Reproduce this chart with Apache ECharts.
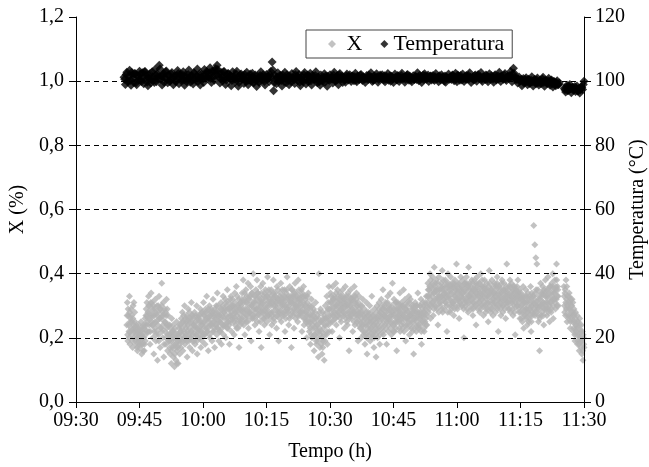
<!DOCTYPE html>
<html>
<head>
<meta charset="utf-8">
<script src="https://cdn.jsdelivr.net/npm/echarts@6/dist/echarts.min.js"></script>
<style>html,body{margin:0;padding:0;background:#fff}#c{width:649px;height:467px}</style>
</head>
<body>
<div id="c"></div>
<script>
// ---- axis ticks ----
const timeTicks = ['09:30','09:45','10:00','10:15','10:30','10:45','11:00','11:15','11:30'];
const xTicks = [0.0,0.2,0.4,0.6,0.8,1.0,1.2];
const tempTicks = [0,20,40,60,80,100,120];

// ---- X (%) readings, every 7.5 s; a second interleaved set (…b) offset by 3.75 s ----
const xStep = 7.5;
const x_0942_start = '09:42:00';
const x_0942 = [
0.24,0.31,0.19,0.27,0.22,0.33,0.18,0.26, 0.29,0.21,0.25,0.17,0.30,0.23,0.20,0.28,
0.22,0.18,0.24,0.20,0.16,0.23,0.19,0.21, 0.17,0.22,0.20,0.25,0.15,0.21,0.18,0.23,
0.20,0.16,0.24,0.19,0.27,0.22,0.31,0.25, 0.28,0.33,0.22,0.30,0.18,0.26,0.34,0.24,
0.31,0.20,0.27,0.15,0.29,0.23,0.32,0.19, 0.25,0.30,0.13,0.28,0.21,0.33,0.26,0.17,
0.29,0.23,0.37,0.27,0.20,0.31,0.14,0.25, 0.22,0.28,0.18,0.32,0.24,0.16,0.27,0.21,
0.19,0.24,0.15,0.21,0.12,0.26,0.17,0.22, 0.14,0.20,0.11,0.23,0.18,0.13,0.25,0.16,
0.21,0.12,0.19,0.24,0.15,0.22,0.17,0.26, 0.23,0.28,0.16,0.25,0.20,0.30,0.18,0.26,
0.21,0.27,0.14,0.24,0.29,0.19,0.23,0.17, 0.26,0.20,0.31,0.22,0.16,0.27,0.24,0.19,
0.28,0.18,0.25,0.21,0.30,0.15,0.23,0.27, 0.20,0.26,0.22,0.29,0.17,0.24,0.19,0.28
];
const xb_0942_start = '09:42:03.75';
const xb_0942 = [
0.27,0.21,0.29,0.24,0.20,0.28,0.25,0.22, 0.23,0.27,0.19,0.26,0.24,0.31,0.22,0.25,
0.19,0.23,0.21,0.17,0.22,0.20,0.24,0.18, 0.21,0.19,0.23,0.18,0.22,0.20,0.16,0.24,
0.23,0.18,0.26,0.21,0.29,0.24,0.27,0.22, 0.26,0.30,0.24,0.28,0.22,0.31,0.27,0.25,
0.29,0.24,0.30,0.22,0.27,0.25,0.28,0.21, 0.22,0.27,0.24,0.30,0.19,0.26,0.29,0.23,
0.26,0.30,0.22,0.28,0.24,0.27,0.18,0.29, 0.25,0.20,0.27,0.23,0.29,0.21,0.24,0.19,
0.21,0.17,0.23,0.19,0.16,0.22,0.20,0.24, 0.18,0.22,0.15,0.20,0.17,0.21,0.12,0.19,
0.17,0.21,0.23,0.18,0.20,0.24,0.19,0.22, 0.21,0.25,0.19,0.27,0.22,0.24,0.20,0.23,
0.25,0.19,0.22,0.26,0.21,0.25,0.28,0.20, 0.22,0.25,0.27,0.19,0.24,0.21,0.26,0.23,
0.24,0.21,0.27,0.23,0.19,0.26,0.22,0.25, 0.23,0.27,0.20,0.25,0.22,0.28,0.24,0.21
];
const x_1000_start = '10:00:00';
const x_1000 = [
0.25,0.31,0.21,0.27,0.18,0.29,0.23,0.33, 0.22,0.28,0.16,0.26,0.30,0.20,0.24,0.27,
0.29,0.19,0.25,0.32,0.22,0.27,0.17,0.24, 0.26,0.30,0.21,0.34,0.23,0.28,0.19,0.25,
0.27,0.22,0.31,0.18,0.29,0.24,0.33,0.21, 0.28,0.24,0.32,0.20,0.30,0.26,0.35,0.23,
0.25,0.31,0.18,0.29,0.27,0.33,0.22,0.30, 0.32,0.26,0.29,0.21,0.34,0.24,0.28,0.36,
0.27,0.33,0.23,0.30,0.17,0.29,0.25,0.31, 0.30,0.26,0.34,0.28,0.38,0.24,0.32,0.21,
0.29,0.35,0.25,0.31,0.27,0.37,0.23,0.33, 0.32,0.28,0.36,0.19,0.30,0.34,0.26,0.40,
0.27,0.33,0.24,0.31,0.35,0.29,0.38,0.25, 0.34,0.30,0.22,0.32,0.28,0.36,0.17,0.31,
0.29,0.37,0.26,0.33,0.24,0.30,0.35,0.28
];
const xb_1000_start = '10:00:03.75';
const xb_1000 = [
0.23,0.27,0.25,0.21,0.28,0.24,0.26,0.22, 0.26,0.23,0.29,0.25,0.21,0.27,0.24,0.28,
0.24,0.27,0.22,0.28,0.25,0.23,0.29,0.26, 0.28,0.24,0.27,0.23,0.30,0.25,0.27,0.22,
0.25,0.29,0.26,0.23,0.27,0.30,0.24,0.28, 0.26,0.29,0.24,0.31,0.27,0.23,0.29,0.25,
0.29,0.24,0.27,0.32,0.25,0.28,0.30,0.26, 0.27,0.30,0.25,0.28,0.31,0.26,0.29,0.23,
0.30,0.25,0.28,0.32,0.26,0.29,0.24,0.31, 0.27,0.32,0.29,0.25,0.31,0.28,0.34,0.26,
0.31,0.27,0.33,0.29,0.25,0.32,0.28,0.30, 0.28,0.33,0.26,0.30,0.34,0.27,0.31,0.29,
0.31,0.26,0.29,0.33,0.28,0.32,0.27,0.34, 0.29,0.33,0.27,0.31,0.25,0.30,0.34,0.28,
0.32,0.28,0.31,0.26,0.34,0.29,0.27,0.33
];
const x_1015_start = '10:15:00';
const x_1015 = [
0.32,0.25,0.39,0.30,0.27,0.34,0.21,0.31, 0.30,0.35,0.24,0.32,0.28,0.38,0.26,0.33,
0.34,0.29,0.31,0.23,0.36,0.27,0.32,0.19, 0.28,0.33,0.30,0.37,0.25,0.31,0.35,0.29,
0.32,0.27,0.35,0.22,0.30,0.34,0.28,0.39, 0.29,0.33,0.24,0.31,0.36,0.27,0.32,0.17,
0.31,0.35,0.28,0.33,0.23,0.30,0.37,0.26, 0.34,0.29,0.32,0.25,0.38,0.30,0.27,0.33,
0.28,0.31,0.35,0.22,0.33,0.29,0.36,0.24, 0.30,0.26,0.33,0.28,0.20,0.31,0.25,0.34,
0.27,0.22,0.30,0.18,0.25,0.32,0.20,0.28, 0.23,0.29,0.16,0.26,0.21,0.31,0.19,0.24,
0.20,0.27,0.14,0.40,0.23,0.17,0.29,0.25, 0.22,0.15,0.28,0.19,0.26,0.13,0.24,0.30,
0.26,0.21,0.33,0.18,0.29,0.24,0.36,0.22
];
const xb_1015_start = '10:15:03.75';
const xb_1015 = [
0.29,0.33,0.27,0.31,0.35,0.28,0.32,0.26, 0.33,0.28,0.31,0.27,0.34,0.30,0.25,0.32,
0.30,0.33,0.27,0.31,0.29,0.35,0.28,0.32, 0.26,0.31,0.34,0.28,0.32,0.27,0.30,0.33,
0.31,0.28,0.33,0.30,0.26,0.32,0.35,0.29, 0.28,0.32,0.30,0.26,0.33,0.29,0.31,0.35,
0.33,0.27,0.31,0.29,0.34,0.28,0.32,0.30, 0.30,0.33,0.27,0.31,0.29,0.35,0.32,0.28,
0.32,0.27,0.30,0.34,0.28,0.31,0.26,0.33, 0.28,0.32,0.25,0.30,0.27,0.33,0.29,0.24,
0.25,0.29,0.23,0.27,0.21,0.26,0.30,0.24, 0.27,0.21,0.25,0.28,0.23,0.26,0.18,0.22,
0.24,0.19,0.26,0.22,0.28,0.21,0.25,0.18, 0.20,0.25,0.17,0.23,0.27,0.21,0.19,0.26,
0.24,0.28,0.22,0.26,0.31,0.25,0.29,0.27
];
const x_1030_start = '10:30:00';
const x_1030 = [
0.29,0.34,0.25,0.31,0.22,0.36,0.27,0.32, 0.33,0.26,0.30,0.37,0.24,0.29,0.35,0.28,
0.27,0.31,0.20,0.34,0.29,0.25,0.32,0.30, 0.35,0.28,0.32,0.23,0.30,0.36,0.26,0.33,
0.30,0.24,0.34,0.28,0.16,0.31,0.27,0.35, 0.26,0.32,0.29,0.22,0.33,0.28,0.36,0.24,
0.31,0.27,0.34,0.25,0.30,0.19,0.28,0.33, 0.27,0.23,0.30,0.20,0.28,0.25,0.32,0.22,
0.24,0.29,0.18,0.26,0.21,0.31,0.15,0.27, 0.28,0.22,0.25,0.30,0.19,0.26,0.23,0.33,
0.21,0.27,0.24,0.17,0.29,0.22,0.26,0.14, 0.25,0.30,0.20,0.27,0.23,0.31,0.18,0.28,
0.26,0.32,0.23,0.29,0.35,0.21,0.27,0.30, 0.24,0.31,0.28,0.18,0.26,0.33,0.22,0.29,
0.30,0.25,0.34,0.27,0.21,0.28,0.37,0.24
];
const xb_1030_start = '10:30:03.75';
const xb_1030 = [
0.31,0.27,0.33,0.29,0.25,0.32,0.30,0.28, 0.28,0.32,0.26,0.34,0.30,0.27,0.31,0.33,
0.32,0.28,0.30,0.26,0.33,0.29,0.27,0.31, 0.29,0.33,0.27,0.31,0.28,0.32,0.30,0.25,
0.27,0.31,0.29,0.33,0.26,0.30,0.32,0.28, 0.30,0.27,0.32,0.28,0.31,0.25,0.29,0.33,
0.28,0.32,0.26,0.30,0.27,0.31,0.24,0.29, 0.25,0.28,0.23,0.26,0.30,0.24,0.27,0.21,
0.27,0.22,0.26,0.24,0.28,0.20,0.25,0.23, 0.24,0.27,0.21,0.26,0.23,0.28,0.25,0.20,
0.25,0.22,0.27,0.20,0.24,0.26,0.21,0.23, 0.28,0.24,0.26,0.22,0.29,0.25,0.21,0.27,
0.28,0.24,0.30,0.26,0.22,0.29,0.25,0.27, 0.27,0.23,0.29,0.25,0.31,0.26,0.24,0.28,
0.26,0.29,0.23,0.27,0.30,0.25,0.28,0.22
];
const x_1045_start = '10:45:00';
const x_1045 = [
0.27,0.32,0.22,0.29,0.25,0.31,0.16,0.28, 0.31,0.26,0.29,0.23,0.34,0.27,0.30,0.24,
0.25,0.30,0.27,0.35,0.22,0.28,0.32,0.19, 0.29,0.24,0.31,0.26,0.28,0.33,0.21,0.27,
0.32,0.27,0.23,0.30,0.25,0.29,0.15,0.28, 0.26,0.31,0.28,0.22,0.30,0.27,0.34,0.24,
0.28,0.23,0.30,0.26,0.32,0.18,0.27,0.29, 0.25,0.30,0.22,0.28,0.31,0.26,0.33,0.24,
0.33,0.37,0.28,0.35,0.30,0.40,0.26,0.34, 0.36,0.31,0.39,0.27,0.34,0.42,0.30,0.37,
0.32,0.38,0.29,0.35,0.24,0.33,0.39,0.31, 0.35,0.30,0.37,0.33,0.41,0.28,0.36,0.32,
0.29,0.34,0.38,0.31,0.36,0.22,0.33,0.40, 0.37,0.32,0.35,0.28,0.39,0.34,0.30,0.36,
0.31,0.36,0.27,0.33,0.38,0.30,0.35,0.43
];
const xb_1045_start = '10:45:03.75';
const xb_1045 = [
0.29,0.24,0.27,0.31,0.23,0.26,0.29,0.25, 0.27,0.30,0.25,0.28,0.22,0.29,0.26,0.31,
0.28,0.23,0.26,0.30,0.27,0.24,0.29,0.26, 0.26,0.30,0.23,0.28,0.25,0.27,0.31,0.24,
0.25,0.29,0.27,0.22,0.28,0.26,0.30,0.23, 0.29,0.24,0.26,0.30,0.25,0.28,0.23,0.27,
0.26,0.30,0.24,0.28,0.22,0.27,0.25,0.31, 0.28,0.23,0.27,0.25,0.29,0.24,0.30,0.27,
0.31,0.35,0.33,0.29,0.36,0.32,0.38,0.30, 0.33,0.37,0.31,0.35,0.29,0.34,0.36,0.32,
0.35,0.30,0.34,0.37,0.32,0.28,0.35,0.33, 0.31,0.36,0.33,0.29,0.35,0.38,0.32,0.34,
0.35,0.31,0.33,0.37,0.30,0.34,0.28,0.36, 0.33,0.30,0.36,0.32,0.35,0.29,0.37,0.31,
0.34,0.31,0.37,0.29,0.33,0.36,0.32,0.35
];
const x_1100_start = '11:00:00';
const x_1100 = [
0.34,0.29,0.37,0.32,0.26,0.35,0.31,0.39, 0.36,0.33,0.30,0.38,0.34,0.20,0.32,0.37,
0.30,0.35,0.39,0.31,0.36,0.28,0.42,0.33, 0.37,0.32,0.34,0.29,0.38,0.35,0.27,0.31,
0.33,0.38,0.30,0.36,0.24,0.34,0.39,0.32, 0.35,0.31,0.37,0.28,0.33,0.40,0.30,0.36,
0.32,0.36,0.27,0.34,0.38,0.30,0.35,0.29, 0.37,0.31,0.33,0.25,0.36,0.41,0.30,0.34,
0.29,0.35,0.38,0.32,0.27,0.34,0.31,0.37, 0.33,0.28,0.36,0.30,0.39,0.34,0.22,0.32,
0.36,0.31,0.34,0.27,0.33,0.38,0.30,0.35, 0.30,0.37,0.32,0.35,0.26,0.33,0.43,0.31,
0.34,0.29,0.36,0.32,0.38,0.28,0.33,0.37, 0.31,0.35,0.27,0.34,0.30,0.36,0.21,0.33,
0.35,0.30,0.33,0.38,0.29,0.34,0.32,0.26
];
const xb_1100_start = '11:00:03.75';
const xb_1100 = [
0.32,0.36,0.30,0.34,0.37,0.31,0.33,0.35, 0.30,0.34,0.36,0.32,0.29,0.35,0.37,0.31,
0.34,0.32,0.37,0.29,0.33,0.36,0.31,0.35, 0.33,0.36,0.30,0.34,0.32,0.37,0.29,0.35,
0.31,0.35,0.33,0.37,0.30,0.34,0.36,0.29, 0.33,0.37,0.31,0.34,0.29,0.35,0.32,0.38,
0.34,0.30,0.33,0.36,0.31,0.35,0.28,0.33, 0.32,0.35,0.29,0.34,0.31,0.37,0.33,0.28,
0.35,0.31,0.34,0.29,0.36,0.32,0.30,0.34, 0.31,0.35,0.33,0.37,0.29,0.32,0.36,0.30,
0.33,0.29,0.35,0.31,0.37,0.32,0.28,0.34, 0.35,0.32,0.29,0.34,0.31,0.36,0.33,0.30,
0.31,0.35,0.33,0.29,0.36,0.31,0.34,0.32, 0.33,0.29,0.36,0.32,0.28,0.35,0.31,0.34,
0.32,0.36,0.30,0.34,0.31,0.28,0.35,0.33
];
const x_1115_start = '11:15:00';
const x_1115 = [
0.30,0.34,0.26,0.32,0.28,0.36,0.23,0.31, 0.33,0.27,0.35,0.29,0.31,0.24,0.34,0.28,
0.26,0.32,0.29,0.36,0.22,0.30,0.33,0.27, 0.31,0.55,0.28,0.49,0.34,0.45,0.30,0.43,
0.29,0.35,0.25,0.32,0.16,0.30,0.37,0.27, 0.33,0.28,0.36,0.31,0.24,0.34,0.29,0.38,
0.30,0.35,0.27,0.33,0.39,0.29,0.34,0.25, 0.36,0.31,0.28,0.37,0.32,0.40,0.26,0.34,
0.32,0.38,0.29,0.35,0.43,0.30,0.36,0.33
];
const xb_1115_start = '11:15:03.75';
const xb_1115 = [
0.28,0.32,0.30,0.25,0.33,0.29,0.31,0.27, 0.31,0.29,0.26,0.33,0.28,0.32,0.30,0.25,
0.29,0.33,0.27,0.31,0.25,0.34,0.28,0.30, 0.33,0.29,0.32,0.27,0.31,0.35,0.28,0.30,
0.31,0.27,0.33,0.29,0.26,0.32,0.30,0.34, 0.30,0.34,0.31,0.27,0.35,0.29,0.33,0.31,
0.33,0.29,0.31,0.35,0.28,0.32,0.30,0.36, 0.31,0.34,0.29,0.33,0.36,0.30,0.35,0.32,
0.34,0.31,0.36,0.32,0.38,0.33,0.35,0.30
];
const x_1125_start = '11:25:15';
const x_1125 = [
0.36,0.30,0.34,0.27,0.38,0.32,0.25,0.33, 0.31,0.26,0.34,0.29,0.23,0.32,0.28,0.30,
0.27,0.31,0.22,0.29,0.25,0.19,0.28,0.24, 0.23,0.27,0.18,0.25,0.21,0.16,0.26,0.20,
0.19,0.24,0.15,0.22,0.13,0.20,0.17
];
const xb_1125_start = '11:25:18.75';
const xb_1125 = [
0.33,0.28,0.35,0.31,0.29,0.36,0.30,0.27, 0.29,0.33,0.27,0.31,0.25,0.30,0.26,0.32,
0.25,0.28,0.23,0.27,0.21,0.26,0.24,0.22, 0.21,0.25,0.19,0.23,0.18,0.24,0.20,0.22,
0.17,0.22,0.19,0.16,0.21,0.18
];

// ---- Temperatura (°C) readings, every 20 s; a second interleaved set (…b) offset by 10 s ----
const tStep = 20;
const t_0941_start = '09:41:20';
const t_0941 = [
101.2,99.0,102.8, 100.1,103.4,98.7, 101.9,99.6,102.3, 98.9,101.4,103.1, 100.4,102.6,99.2,
103.0,100.8,98.6, 101.7,99.4,102.9, 100.2,103.6,99.8, 101.5,105.0,100.6, 98.8,102.4,101.0,
103.2,99.5,101.8, 100.3,102.7,98.9, 101.6,100.0,103.3, 99.2,102.1,100.7, 102.9,98.7,101.3,
100.5,103.5,99.7, 101.8,99.1,102.5, 100.2,103.8,101.1, 98.8,102.2,100.6
];
const tb_0941_start = '09:41:30';
const tb_0941 = [
100.6,102.1,99.8, 101.5,100.2,102.7, 100.9,102.4,99.5, 101.8,100.4,102.2, 99.9,101.3,102.9,
101.9,99.7,100.8, 102.4,100.5,101.3, 99.6,101.9,102.2, 100.7,103.8,101.6, 101.8,99.7,102.9,
100.6,101.9,99.9, 102.2,100.8,101.4, 99.9,101.7,102.4, 101.3,100.2,102.0, 100.4,101.9,99.8,
102.1,100.9,101.5, 100.3,102.6,100.8, 101.6,99.9,102.3, 100.9,101.4,99.6
];
const t_1000_start = '10:00:20';
const t_1000 = [
103.6,100.9,102.8, 101.4,104.2,99.6, 102.7,100.3,103.9, 105.0,101.5,99.4, 102.6,100.1,103.0,
99.0,101.7,102.4, 100.5,98.6,102.9, 101.2,99.8,103.1, 98.4,100.9,102.2, 101.6,99.3,100.4,
102.8,98.9,101.1, 100.0,102.5,99.5, 101.9,98.3,100.7, 99.7,102.9,101.3, 100.6,98.8,102.1
];
const tb_1000_start = '10:00:30';
const tb_1000 = [
101.9,102.9,101.0, 102.6,100.8,103.1, 101.3,103.2,101.9, 103.6,102.4,100.7, 101.4,102.9,100.8,
100.4,102.3,101.1, 101.7,100.2,101.5, 100.6,102.2,101.0, 99.6,101.9,100.7, 100.8,102.1,99.8,
101.3,100.3,102.2, 101.2,99.6,100.9, 100.4,101.6,99.7, 101.8,100.5,102.0, 99.9,101.5,100.6
];
const t_1015_start = '10:15:20';
const t_1015 = [
101.4,99.9,103.0, 106.0,97.0,101.8, 99.2,102.6,100.4, 101.7,98.5,100.9, 102.8,99.6,101.2,
98.9,100.7,102.4, 101.0,99.3,103.0, 100.2,102.1,98.6, 101.5,99.8,102.7, 99.1,101.9,100.3,
102.5,98.8,101.4, 100.6,102.9,99.5, 101.3,98.7,100.8, 99.9,102.3,101.6, 98.4,100.5,102.0
];
const tb_1015_start = '10:15:30';
const tb_1015 = [
100.9,102.1,101.2, 103.5,99.5,100.6, 101.3,99.9,101.8, 100.2,101.9,99.8, 100.9,102.0,100.3,
101.6,99.8,101.1, 100.4,102.0,101.3, 101.3,99.7,100.6, 100.3,102.0,101.0, 100.7,99.9,101.5,
100.1,101.8,100.6, 101.8,100.1,101.2, 99.8,101.9,100.2, 101.1,99.7,100.9, 101.5,100.2,101.0
];
const t_1030_start = '10:30:20';
const t_1030 = [
101.2,99.4,102.8, 100.0,101.7,98.9, 102.4,100.8,99.6, 101.1,99.7,102.2, 100.4,102.0,99.9,
101.6,100.1,102.5, 99.8,101.3,100.6, 102.1,100.2,101.0, 99.6,101.8,100.5, 101.4,102.6,99.9,
100.3,101.1,102.3, 99.7,100.9,101.6, 102.0,100.4,99.8, 101.5,102.4,100.7, 100.0,101.2,99.6
];
const tb_1030_start = '10:30:30';
const tb_1030 = [
100.6,101.9,100.3, 101.2,100.5,101.9, 100.7,101.5,100.9, 100.4,101.7,100.9, 101.3,100.6,101.5,
100.7,101.4,100.3, 101.6,100.5,101.9, 100.9,101.4,100.6, 100.8,101.0,101.9, 100.7,101.2,100.4,
101.6,100.8,101.4, 100.5,101.9,100.9, 101.1,101.7,100.6, 100.9,100.3,101.7, 101.5,100.7,101.0
];
const t_1045_start = '10:45:20';
const t_1045 = [
102.2,100.6,101.8, 99.9,101.0,102.5, 100.8,99.7,101.4, 102.1,100.3,101.0, 99.8,101.7,100.5,
101.2,102.6,100.1, 100.6,99.6,101.9, 102.3,100.9,101.3, 99.9,101.5,100.4, 101.8,100.2,102.4,
100.7,99.8,101.1, 102.0,101.4,100.0, 99.7,100.8,102.2, 101.3,100.5,101.9, 100.1,102.5,99.8
];
const tb_1045_start = '10:45:30';
const tb_1045 = [
101.2,100.4,101.5, 100.7,101.8,100.9, 101.3,100.6,101.9, 100.8,101.6,100.4, 101.1,100.6,101.5,
100.5,101.3,101.8, 101.2,100.9,100.5, 101.6,100.6,101.9, 100.9,101.6,101.1, 100.6,101.4,101.0,
101.3,101.7,100.4, 100.9,100.7,101.6, 101.3,101.0,100.6, 100.8,101.8,100.7, 101.3,100.6,101.9
];
const t_1100_start = '11:00:20';
const t_1100 = [
101.6,100.3,101.0, 102.2,99.9,100.7, 100.6,101.8,102.6, 99.6,101.2,100.4, 101.9,100.0,102.1,
100.8,102.7,99.9, 101.4,100.5,101.7, 99.8,102.3,100.9, 101.1,99.7,102.0, 100.4,101.6,102.8,
99.9,101.3,100.6, 102.4,100.2,101.5, 100.9,103.0,99.8, 104.0,101.2,100.5, 99.4,101.3,100.1
];
const tb_1100_start = '11:00:30';
const tb_1100 = [
100.9,101.8,100.4, 100.9,101.4,101.8, 101.3,100.7,101.2, 101.0,100.6,101.7, 100.8,101.6,100.9,
101.4,100.5,101.3, 100.8,101.9,100.6, 101.3,100.6,101.7, 100.6,101.6,100.9, 101.1,100.7,101.4,
101.6,100.8,101.9, 100.7,101.3,100.9, 101.8,101.4,102.3, 102.5,100.6,101.0, 100.7,99.9,100.6
];
const t_1115_start = '11:15:20';
const t_1115 = [
98.6,100.8,99.7, 101.1,98.9,100.4, 99.5,101.4,98.5, 100.6,99.2,101.0, 98.8,100.3,99.6,
101.2,98.4,100.0, 99.3,100.9,98.7, 100.4,98.2,99.8, 98.6,100.1,99.0
];
const tb_1115_start = '11:15:30';
const tb_1115 = [
100.2,99.4,100.5, 99.8,100.6,99.3, 100.3,99.8,100.0, 99.7,100.4,99.5, 100.0,99.2,100.7,
99.6,100.3,99.4, 100.1,99.5,100.2, 99.2,99.9,98.9, 99.6,98.9,99.4
];
const t_1125_start = '11:25:20';
const t_1125 = [
97.8,96.6,98.7, 97.2,99.0,96.4, 98.1,97.5,96.8, 98.5,97.0,96.3, 98.2,97.4,100.0
];
const tb_1125_start = '11:25:30';
const tb_1125 = [
97.3,98.1,97.0, 98.4,97.6,97.9, 97.2,98.3,97.7, 96.9,97.8,97.3, 98.0,99.0
];

// ---- helpers ----
function toMin(s){ const p = s.split(':').map(Number); return p[0]*60 + p[1] + (p[2]||0)/60; }
function sampled(start, stepSec, vals){ const t0 = toMin(start); return vals.map((v,i)=>[t0 + i*stepSec/60, v]); }
function fmtTime(v){ const h = Math.floor(v/60), m = Math.round(v - h*60); return (h<10?'0':'')+h+':'+(m<10?'0':'')+m; }

const xSets = [
  [x_0942_start, x_0942], [xb_0942_start, xb_0942], [x_1000_start, x_1000], [xb_1000_start, xb_1000],
  [x_1015_start, x_1015], [xb_1015_start, xb_1015], [x_1030_start, x_1030], [xb_1030_start, xb_1030],
  [x_1045_start, x_1045], [xb_1045_start, xb_1045], [x_1100_start, x_1100], [xb_1100_start, xb_1100],
  [x_1115_start, x_1115], [xb_1115_start, xb_1115], [x_1125_start, x_1125], [xb_1125_start, xb_1125]];
const tSets = [
  [t_0941_start, t_0941], [tb_0941_start, tb_0941], [t_1000_start, t_1000], [tb_1000_start, tb_1000],
  [t_1015_start, t_1015], [tb_1015_start, tb_1015], [t_1030_start, t_1030], [tb_1030_start, tb_1030],
  [t_1045_start, t_1045], [tb_1045_start, tb_1045], [t_1100_start, t_1100], [tb_1100_start, tb_1100],
  [t_1115_start, t_1115], [tb_1115_start, tb_1115], [t_1125_start, t_1125], [tb_1125_start, tb_1125]];
const xData = [].concat(...xSets.map(s => sampled(s[0], xStep, s[1])));
const tData = [].concat(...tSets.map(s => sampled(s[0], tStep, s[1])));

const FONT = 'Liberation Serif';
const txt = {fontFamily: FONT, fontSize: 20, color: '#000'};
const chart = echarts.init(document.getElementById('c'), null, {renderer: 'canvas'});
chart.setOption({
  animation: false,
  backgroundColor: '#fff',
  textStyle: {fontFamily: FONT},
  grid: {left: 76, right: 65, top: 17, bottom: 65, containLabel: false, outerBoundsMode: 'none'},
  legend: {
    left: 306, top: 30,
    padding: [3, 8, 3, 22],
    itemGap: 18, itemWidth: 8, itemHeight: 8,
    borderColor: '#444', borderWidth: 1, borderRadius: 0,
    textStyle: {fontFamily: FONT, fontSize: 22, color: '#000'},
    formatter: name => name === 'X' ? ' X' : name,
    data: [{name: 'X', icon: 'diamond'}, {name: 'Temperatura', icon: 'diamond'}]
  },
  xAxis: {
    type: 'value',
    min: toMin(timeTicks[0]), max: toMin(timeTicks[timeTicks.length-1]), interval: 15,
    name: 'Tempo (h)', nameLocation: 'middle', nameGap: 40, nameTextStyle: txt,
    axisLine: {show: true, onZero: false, lineStyle: {color: '#000', width: 1}},
    axisTick: {show: true, inside: false, length: 6, lineStyle: {color: '#000'}},
    axisLabel: {margin: 9, ...txt, formatter: fmtTime},
    splitLine: {show: false}
  },
  yAxis: [{
    type: 'value', position: 'left', z: 5,
    min: xTicks[0], max: xTicks[xTicks.length-1], interval: 0.2,
    name: 'X (%)', nameLocation: 'middle', nameGap: 48, nameRotate: 90, nameMoveOverlap: false,
    nameTextStyle: txt,
    axisLine: {show: true, onZero: false, lineStyle: {color: '#000', width: 1}},
    axisTick: {show: true, inside: false, length: 7, lineStyle: {color: '#000'}},
    axisLabel: {margin: 12, ...txt, formatter: v => v.toFixed(1).replace('.', ',')},
    splitLine: {show: true, showMinLine: false, showMaxLine: false,
      lineStyle: {color: '#000', width: 1, type: [5, 4]}}
  }, {
    type: 'value', position: 'right', z: 5,
    min: tempTicks[0], max: tempTicks[tempTicks.length-1], interval: 20,
    name: 'Temperatura (°C)', nameLocation: 'middle', nameGap: 44, nameRotate: 90, nameMoveOverlap: false,
    nameTextStyle: txt,
    axisLine: {show: true, onZero: false, lineStyle: {color: '#000', width: 1}},
    axisTick: {show: true, inside: false, length: 7, lineStyle: {color: '#000'}},
    axisLabel: {margin: 11, ...txt, formatter: v => String(v)},
    splitLine: {show: false}
  }],
  series: [{
    name: 'X', type: 'scatter', yAxisIndex: 0, symbol: 'diamond', symbolSize: 7,
    itemStyle: {color: '#b3b3b3'}, data: xData
  }, {
    name: 'Temperatura', type: 'scatter', yAxisIndex: 1, symbol: 'diamond', symbolSize: 9,
    itemStyle: {color: '#000'}, data: tData
  }]
});
</script>
</body>
</html>
